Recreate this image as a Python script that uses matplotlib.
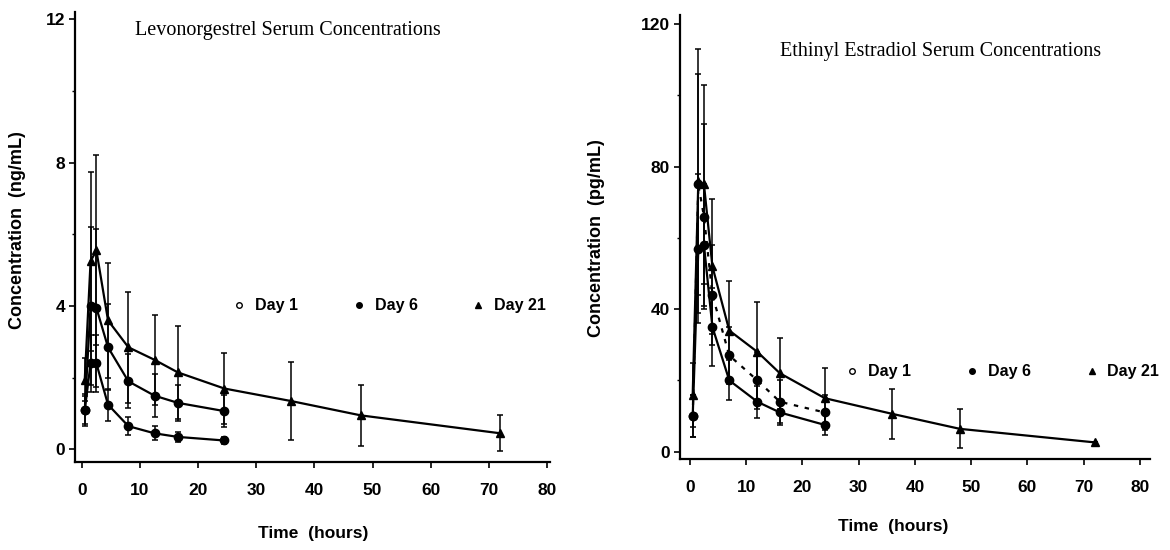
import matplotlib.pyplot as plt
from matplotlib.lines import Line2D
from matplotlib.ticker import MultipleLocator

# Levonorgestrel serum concentrations (ng/mL), mean and SD
lng_time_short = [0.5, 1.5, 2.5, 4.5, 8, 12.5, 16.5, 24.5]
lng_time_long = [0.5, 1.5, 2.5, 4.5, 8, 12.5, 16.5, 24.5, 36, 48, 72]
lng_day1 = [1.1, 2.4, 2.4, 1.25, 0.65, 0.45, 0.35, 0.25]
lng_day1_sd = [0.45, 0.8, 0.8, 0.45, 0.25, 0.2, 0.15, 0.1]
lng_day6 = [1.1, 4.0, 3.95, 2.85, 1.9, 1.5, 1.3, 1.07]
lng_day6_sd = [0.4, 2.2, 2.2, 1.2, 0.75, 0.6, 0.5, 0.45]
lng_day21 = [1.95, 5.25, 5.55, 3.6, 2.85, 2.5, 2.15, 1.7, 1.35, 0.95, 0.45]
lng_day21_sd = [0.6, 2.5, 2.65, 1.6, 1.55, 1.25, 1.3, 1.0, 1.1, 0.85, 0.5]

# Ethinyl estradiol serum concentrations (pg/mL)
ee_time_short = [0.5, 1.5, 2.5, 4, 7, 12, 16, 24]
ee_time_long = [0.5, 1.5, 2.5, 4, 7, 12, 16, 24, 36, 48, 72]
ee_day1 = [10, 57, 58, 35, 20, 14, 11, 7.5]
ee_day1_sd = [6, 21, 17, 11, 5.6, 4.5, 3.6, 2.8]
ee_day6 = [10, 75, 66, 44, 27, 20, 14, 11]
ee_day6_sd = [6, 31, 26, 14, 8, 8, 6, 5]
ee_day21 = [16, 76, 75, 52, 34, 28, 22, 15, 10.6, 6.4, 2.6]
ee_day21_sd = [9, 37, 28, 19, 14, 14, 10, 8.4, 7, 5.5, 0]

day_labels = ['Day 1', 'Day 6', 'Day 21']

plt.rcParams['font.family'] = ['Liberation Sans', 'DejaVu Sans']
plt.rcParams['font.weight'] = 'bold'

fig = plt.figure(figsize=(11.7, 5.5), dpi=100)
ax1 = fig.add_axes([0.064, 0.16, 0.406, 0.818])
ax2 = fig.add_axes([0.581, 0.1655, 0.402, 0.8075])


def draw_series(ax, t, v, sd, marker, ls='-'):
    ax.errorbar(t, v, yerr=sd, fmt=marker, ls=ls, color='black', lw=1.6,
                ms=6, elinewidth=1.1, capsize=2, capthick=1.1)


def style_axis(ax, ystep, ylim, xlim):
    ax.set_xlim(*xlim)
    ax.set_ylim(*ylim)
    ax.xaxis.set_major_locator(MultipleLocator(10))
    ax.yaxis.set_major_locator(MultipleLocator(ystep))
    ax.yaxis.set_minor_locator(MultipleLocator(ystep / 2))
    for s in ['top', 'right']:
        ax.spines[s].set_visible(False)
    for s in ['left', 'bottom']:
        ax.spines[s].set_linewidth(1.6)
    ax.tick_params(axis='x', length=4, width=1.2, pad=11, labelsize=12.5)
    ax.tick_params(axis='y', length=4, width=1.2, pad=3, labelsize=12.5)
    ax.tick_params(axis='y', which='minor', length=2, width=1)
    for lab in ax.get_xticklabels() + ax.get_yticklabels():
        lab.set_fontweight('bold')


def add_legend(ax, anchor):
    handles = [
        Line2D([], [], marker='o', ls='none', color='black', mfc='white', ms=4),
        Line2D([], [], marker='o', ls='none', color='black', ms=4),
        Line2D([], [], marker='^', ls='none', color='black', ms=4),
    ]
    ax.legend(handles, day_labels, ncol=3, loc='center left', bbox_to_anchor=anchor,
              frameon=False, handlelength=0.8, handletextpad=0.6,
              columnspacing=3.4, borderpad=0, prop={'weight': 'bold', 'size': 11.5})


# left panel: levonorgestrel
draw_series(ax1, lng_time_short, lng_day1, lng_day1_sd, 'o')
draw_series(ax1, lng_time_short, lng_day6, lng_day6_sd, 'o')
draw_series(ax1, lng_time_long, lng_day21, lng_day21_sd, '^')
style_axis(ax1, 4, (-0.35, 12.2), (-1.2, 80.5))
ax1.set_xlabel('Time  (hours)', fontsize=12.5, fontweight='bold')
ax1.set_ylabel('Concentration  (ng/mL)', fontsize=13, fontweight='bold')
ax1.xaxis.set_label_coords(0.501, -0.142)
ax1.yaxis.set_label_coords(-0.103, 0.515)
ax1.text(0.126, 0.96, 'Levonorgestrel Serum Concentrations', transform=ax1.transAxes,
         family='Liberation Serif', fontweight='normal', fontsize=14.5, va='center')
add_legend(ax1, (0.315, 0.347))

# right panel: ethinyl estradiol
draw_series(ax2, ee_time_short, ee_day1, ee_day1_sd, 'o')
draw_series(ax2, ee_time_short, ee_day6, ee_day6_sd, 'o', ls=(0, (2, 3)))
draw_series(ax2, ee_time_long, ee_day21, ee_day21_sd, '^')
style_axis(ax2, 40, (-2.05, 122.6), (-1.8, 81.8))
ax2.set_xlabel('Time  (hours)', fontsize=12.5, fontweight='bold')
ax2.set_ylabel('Concentration  (pg/mL)', fontsize=13, fontweight='bold')
ax2.xaxis.set_label_coords(0.453, -0.135)
ax2.yaxis.set_label_coords(-0.16, 0.498)
ax2.text(0.213, 0.917, 'Ethinyl Estradiol Serum Concentrations', transform=ax2.transAxes,
         family='Liberation Serif', fontweight='normal', fontsize=14.5, va='center')
add_legend(ax2, (0.336, 0.196))

fig.savefig('out.png', dpi=100)
